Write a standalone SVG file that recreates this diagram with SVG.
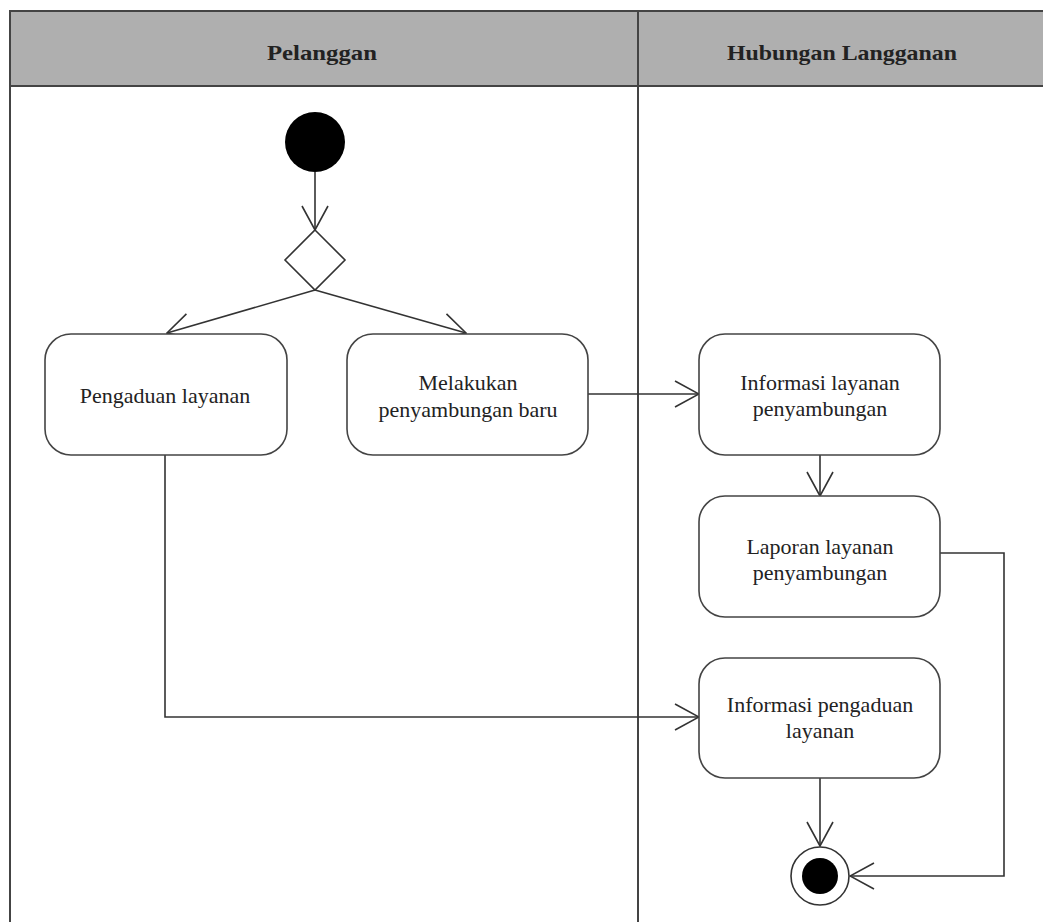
<svg xmlns="http://www.w3.org/2000/svg" width="1043" height="922" viewBox="0 0 1043 922">
  <style>
    .lane { fill: none; stroke: #444; stroke-width: 2; }
    .head { fill: #afafaf; stroke: #444; stroke-width: 2; }
    .htxt { font-family: "Liberation Serif", serif; font-weight: bold; font-size: 21px; fill: #222; text-anchor: middle; }
    .act { fill: #fff; stroke: #444; stroke-width: 1.6; }
    .txt { font-family: "Liberation Serif", serif; font-size: 22px; fill: #222; text-anchor: middle; }
    .flow { fill: none; stroke: #333; stroke-width: 1.6; }
  </style>
  <defs>
    <marker id="open" viewBox="0 0 26 28" refX="25" refY="14" markerWidth="26" markerHeight="28" markerUnits="userSpaceOnUse" orient="auto">
      <path d="M1,1 L25,14 L1,27" fill="none" stroke="#333" stroke-width="1.6"/>
    </marker>
  </defs>

  <!-- swimlanes -->
  <g id="lanes">
    <rect class="head" x="10" y="11" width="1045" height="75"/>
    <line class="lane" x1="10" y1="86" x2="10" y2="930"/>
    <line class="lane" x1="638" y1="11" x2="638" y2="930"/>
    <text class="htxt" x="322" y="60" textLength="110" lengthAdjust="spacingAndGlyphs">Pelanggan</text>
    <text class="htxt" x="842" y="60" textLength="230" lengthAdjust="spacingAndGlyphs">Hubungan Langganan</text>
  </g>

  <!-- connectors -->
  <g id="connectors">
    <line class="flow" x1="315" y1="172" x2="315" y2="230" marker-end="url(#open)"/>
    <line class="flow" x1="315" y1="290" x2="167" y2="333" marker-end="url(#open)"/>
    <line class="flow" x1="315" y1="290" x2="466" y2="333" marker-end="url(#open)"/>
    <line class="flow" x1="588" y1="394" x2="699" y2="394" marker-end="url(#open)"/>
    <line class="flow" x1="820" y1="455" x2="820" y2="496" marker-end="url(#open)"/>
    <polyline class="flow" points="940,553 1004,553 1004,876 850,876" marker-end="url(#open)"/>
    <polyline class="flow" points="165,455 165,717 699,717" marker-end="url(#open)"/>
    <line class="flow" x1="820" y1="778" x2="820" y2="846" marker-end="url(#open)"/>
  </g>

  <g id="start">
    <circle cx="315" cy="142" r="30" fill="#000"/>
  </g>

  <g id="decision">
    <polygon points="315,230 345,260 315,290 285,260" fill="#fff" stroke="#333" stroke-width="1.6"/>
  </g>

  <g id="pengaduan-layanan">
    <rect class="act" x="45" y="334" width="242" height="121" rx="26"/>
    <text class="txt" x="165" y="403">Pengaduan layanan</text>
  </g>

  <g id="melakukan-penyambungan">
    <rect class="act" x="347" y="334" width="241" height="121" rx="26"/>
    <text class="txt" x="468" y="390">Melakukan</text>
    <text class="txt" x="468" y="417">penyambungan baru</text>
  </g>

  <g id="informasi-layanan">
    <rect class="act" x="699" y="334" width="241" height="121" rx="26"/>
    <text class="txt" x="820" y="390">Informasi layanan</text>
    <text class="txt" x="820" y="416">penyambungan</text>
  </g>

  <g id="laporan-layanan">
    <rect class="act" x="699" y="496" width="241" height="121" rx="26"/>
    <text class="txt" x="820" y="554">Laporan layanan</text>
    <text class="txt" x="820" y="580">penyambungan</text>
  </g>

  <g id="informasi-pengaduan">
    <rect class="act" x="699" y="658" width="241" height="120" rx="26"/>
    <text class="txt" x="820" y="712">Informasi pengaduan</text>
    <text class="txt" x="820" y="738">layanan</text>
  </g>

  <g id="end">
    <circle cx="820" cy="876" r="29" fill="#fff" stroke="#333" stroke-width="1.6"/>
    <circle cx="820" cy="876" r="18" fill="#000"/>
  </g>
</svg>
